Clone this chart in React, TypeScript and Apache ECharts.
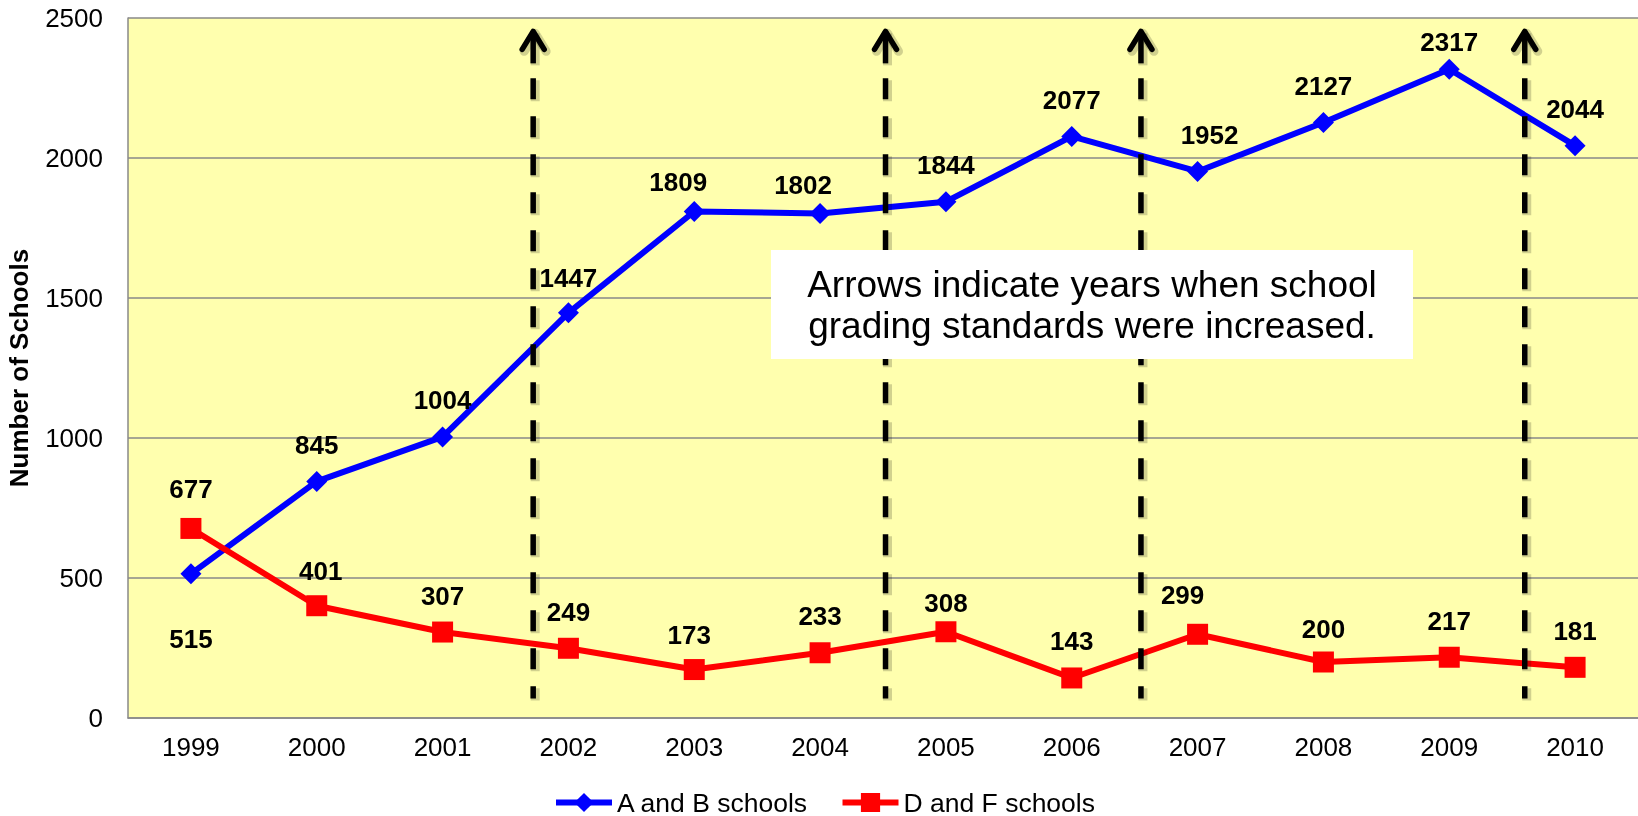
import React, { useEffect, useRef } from "react";
import * as echarts from "echarts";

const years = ["1999", "2000", "2001", "2002", "2003", "2004", "2005", "2006", "2007", "2008", "2009", "2010"];
const abSchools = [515, 845, 1004, 1447, 1809, 1802, 1844, 2077, 1952, 2127, 2317, 2044];
const dfSchools = [677, 401, 307, 249, 173, 233, 308, 143, 299, 200, 217, 181];
const yMin = 0;
const yMax = 2500;
const yInterval = 500;
// arrows: position on the category index scale, value range
const arrowPositions = [2.72, 5.52, 7.55, 10.6];
const arrowBottom = 70;
const arrowTop = 2463;
const noteLines = ["Arrows indicate years when school", "grading standards were increased."];

// label nudges (styling only)
const abNudge: Record<number, number[]> = { 3: [0, 2], 4: [-16, 7], 5: [-17, 8], 8: [12, 0], 10: [0, 9] };
const dfNudge: Record<number, number[]> = { 0: [0, -3], 1: [4, 2], 4: [-5, 2], 6: [0, 8], 8: [-15, -3], 9: [0, 3] };

const FONT = '"Liberation Sans", Arial, Helvetica, sans-serif';

export default function App() {
  const ref = useRef<HTMLDivElement>(null);
  useEffect(() => {
    if (!ref.current) return;
    const chart = echarts.init(ref.current, null, { renderer: "svg" });
    const labelBase = { show: true, position: "top", distance: 13, fontSize: 26, fontWeight: "bold", color: "#000", fontFamily: FONT };
    const abData = abSchools.map((v, i) => {
      if (i === 0) return { value: v, label: { position: "bottom", distance: 42 } };
      const n = abNudge[i];
      return n ? { value: v, label: { offset: n } } : v;
    });
    const dfData = dfSchools.map((v, i) => {
      const n = dfNudge[i];
      return n ? { value: v, label: { offset: n } } : v;
    });
    chart.setOption({
      animation: false,
      textStyle: { fontFamily: FONT },
      grid: {
        left: 128,
        right: 0,
        top: 18,
        bottom: 98,
        show: true,
        backgroundColor: "#FFFFAE",
        borderWidth: 0,
        containLabel: false,
        outerBoundsMode: "none",
      },
      legend: {
        data: ["A and B schools", "D and F schools"],
        left: 553,
        top: 789,
        padding: 0,
        itemWidth: 56,
        itemHeight: 24,
        itemGap: 31,
        lineStyle: { width: 6 },
        textStyle: { fontSize: 26.5, color: "#000", fontFamily: FONT },
      },
      xAxis: [
        {
          type: "category",
          data: years,
          boundaryGap: true,
          axisLine: { lineStyle: { color: "#898989", width: 1.5 } },
          axisTick: { show: false },
          axisLabel: { fontSize: 26, color: "#000", margin: 16, fontFamily: FONT },
        },
        { type: "value", min: -0.5, max: 11.5, show: false },
      ],
      yAxis: {
        type: "value",
        min: yMin,
        max: yMax,
        interval: yInterval,
        name: "Number of Schools",
        nameLocation: "middle",
        nameGap: 96,
        nameTextStyle: { fontSize: 26, fontWeight: "bold", color: "#000", fontFamily: FONT },
        axisLine: { show: true, onZero: false, lineStyle: { color: "#898989", width: 1.5 } },
        axisTick: { show: false },
        splitLine: { lineStyle: { color: "#898989", width: 1.5 } },
        axisLabel: { fontSize: 26, color: "#000", margin: 25, fontFamily: FONT, formatter: (v: number) => String(v) },
      },
      series: [
        {
          name: "A and B schools",
          type: "line",
          data: abData,
          symbol: "diamond",
          symbolSize: 21,
          lineStyle: { color: "#0000FF", width: 6 },
          itemStyle: { color: "#0000FF" },
          label: labelBase,
          z: 2,
        },
        {
          name: "D and F schools",
          type: "line",
          data: dfData,
          symbol: "rect",
          symbolSize: 21,
          lineStyle: { color: "#FF0000", width: 6 },
          itemStyle: { color: "#FF0000" },
          label: labelBase,
          z: 2,
        },
        {
          type: "custom",
          xAxisIndex: 1,
          yAxisIndex: 0,
          silent: true,
          z: 3,
          data: arrowPositions.map((p) => [p, arrowBottom, arrowTop]),
          renderItem: (params: any, api: any) => {
            const b = api.coord([api.value(0), api.value(1)]);
            const t = api.coord([api.value(0), api.value(2)]);
            const x = t[0];
            const ty = t[1];
            const by = b[1];
            const shadow = { stroke: "rgba(0,0,0,0.18)", lineWidth: 9 };
            const ink = { stroke: "#000", lineWidth: 5.5 };
            const chevron = (dx: number, dy: number) => [
              [x + dx - 11, ty + dy + 21],
              [x + dx, ty + dy + 3],
              [x + dx + 11, ty + dy + 21],
            ];
            return {
              type: "group",
              children: [
                { type: "polyline", shape: { points: chevron(2, 2) }, style: { ...shadow, fill: null, lineJoin: "round", lineCap: "round" } },
                { type: "line", shape: { x1: x + 2, y1: ty + 5, x2: x + 2, y2: ty + 37 }, style: { ...shadow } },
                { type: "line", shape: { x1: x + 2, y1: ty + 52, x2: x + 2, y2: by + 2 }, style: { ...shadow, lineDash: [21, 17] } },
                { type: "polyline", shape: { points: chevron(0, 0) }, style: { ...ink, fill: null, lineJoin: "round", lineCap: "round" } },
                { type: "line", shape: { x1: x, y1: ty + 3, x2: x, y2: ty + 35 }, style: { ...ink } },
                { type: "line", shape: { x1: x, y1: ty + 50, x2: x, y2: by }, style: { ...ink, lineDash: [21, 17] } },
              ],
            };
          },
        },
      ],
      graphic: [
        {
          type: "group",
          z: 10,
          children: [
            { type: "rect", z: 10, shape: { x: 771, y: 250, width: 642, height: 109 }, style: { fill: "#fff" } },
            {
              type: "text",
              z: 11,
              x: 1092,
              y: 305,
              style: {
                text: noteLines.join("\n"),
                fontSize: 37,
                fontFamily: FONT,
                fill: "#000",
                align: "center",
                verticalAlign: "middle",
                textAlign: "center",
                textVerticalAlign: "middle",
                lineHeight: 41,
              },
            },
          ],
        },
      ],
    });
    return () => chart.dispose();
  }, []);
  return <div ref={ref} style={{ position: "fixed", left: 0, top: 0, width: 1638, height: 816 }} />;
}
